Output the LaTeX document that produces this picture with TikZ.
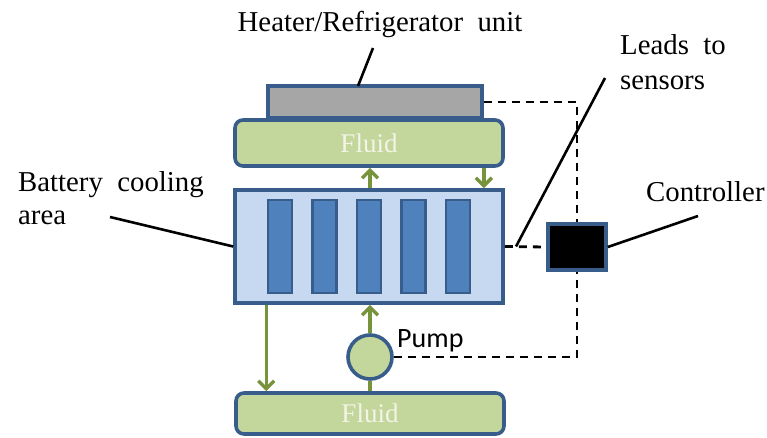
\documentclass[tikz,border=0pt]{standalone}
\usepackage{fontspec}
\setmainfont{Liberation Serif}
\newfontfamily\pumpfont{Carlito}
\usetikzlibrary{arrows.meta,calc}
\definecolor{edgeblue}{HTML}{385D8A}
\definecolor{lightblue}{HTML}{C6D9F1}
\definecolor{cellblue}{HTML}{4F81BD}
\definecolor{fluidgreen}{HTML}{C3D69B}
\definecolor{arrowgreen}{HTML}{77933C}
\definecolor{heatgray}{HTML}{A6A6A6}
\definecolor{fluidtext}{HTML}{F4F4E6}
\tikzset{
  box/.style={draw=edgeblue, line width=3.6pt, inner sep=0pt, anchor=center},
  fluidbox/.style={box, fill=fluidgreen, rounded corners=8pt, text=fluidtext, font=\fontsize{27}{30}\selectfont},
  cellbox/.style={box, fill=cellblue, line width=2.8pt, minimum width=24pt, minimum height=93pt},
  flow/.style={draw=arrowgreen, line width=3.4pt},
  flowarrow/.style={flow, -{Straight Barb[length=8pt,width=16pt,line width=3.4pt]}},
  lead/.style={draw=black, line width=2.6pt},
  sensor/.style={draw=black, line width=2.8pt, dash pattern=on 8pt off 6pt},
  label/.style={font=\fontsize{28.8}{34}\selectfont, inner sep=0pt, align=left}
}
\begin{document}
\begin{tikzpicture}[x=1pt,y=-1pt]
\useasboundingbox (0,0) rectangle (767,438);
% heater
\node[box, fill=heatgray, minimum width=214pt, minimum height=32pt] (heater) at (375,102) {};
% fluids
\node[fluidbox, minimum width=268pt, minimum height=46pt] (fluidtop) at (369,143) {Fluid};
\node[fluidbox, minimum width=268pt, minimum height=41pt] (fluidbot) at (370,413.5) {Fluid};
% battery
\node[box, fill=lightblue, minimum width=268pt, minimum height=113pt] (battery) at (369,246.5) {};
\node[cellbox] (c1) at (280,246.5) {};
\node[cellbox] (c2) at (324.5,246.5) {};
\node[cellbox] (c3) at (369,246.5) {};
\node[cellbox] (c4) at (413.5,246.5) {};
\node[cellbox] (c5) at (458,246.5) {};
% pump
\node[box, circle, fill=fluidgreen, minimum size=44pt] (pump) at (370,357) {};
% controller
\node[box, fill=black, minimum width=58pt, minimum height=46pt] (ctrl) at (577,247) {};
% flows
\draw[flowarrow] (battery.north -| pump.north) -- (fluidtop.south -| pump.north);
\draw[flowarrow] (fluidtop.south -| heater.east) -- (battery.north -| heater.east);
\draw[flowarrow] (pump.north) -- (battery.south -| pump.north);
\draw[flow] (pump.south) -- (fluidbot.north -| pump.south);
\draw[flowarrow] (battery.south -| heater.west) -- (fluidbot.north -| heater.west);
% sensor leads
\draw[sensor] (heater.east) -| (ctrl.north);
\draw[sensor] (battery.east) -- (ctrl.west);
\draw[sensor] (pump.east) -| (ctrl.south);
% labels
\node[label, anchor=base] (lheater) at (380,32) {Heater/Refrigerator\ \ unit};
\node[label, anchor=base west] (lbat1) at (18,192) {Battery\ \ cooling};
\node[label, anchor=base west] (lbat2) at (18,225) {area};
\node[label, anchor=base west] (llead1) at (620,55) {Leads\ \ to};
\node[label, anchor=base west] (llead2) at (620,90) {sensors};
\node[label, anchor=base west] (lctrl) at (646,202) {Controller};
\node[inner sep=0pt, anchor=base west, font=\pumpfont\fontsize{28}{32}\selectfont] (lpump) at (397,347) {Pump};
\coordinate (hl1) at (373,48);
\coordinate (hl2) at (358,86);
\coordinate (bl1) at (110,217);
\coordinate (ll1) at (605,78);
\coordinate (ll2) at (516,246.5);
\coordinate (cl1) at (698,216);
\draw[lead] (hl1) -- (hl2);
\draw[lead] (bl1) -- (battery.west);
\draw[lead] (ll1) -- (ll2);
\draw[lead] (ctrl.east) -- (cl1);
\end{tikzpicture}
\end{document}
